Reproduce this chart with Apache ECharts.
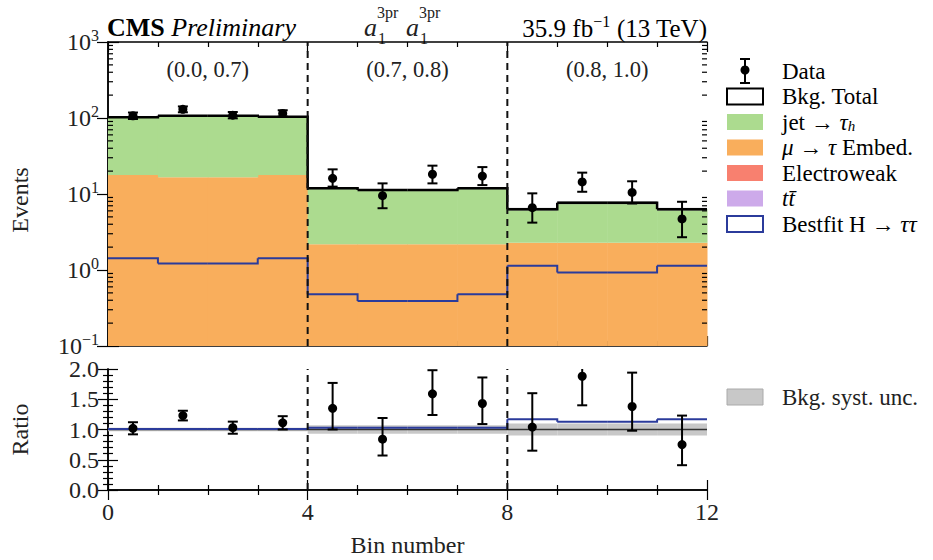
<!DOCTYPE html>
<html><head><meta charset="utf-8">
<script src="https://cdn.jsdelivr.net/npm/echarts@6/dist/echarts.min.js"></script>
<style>html,body{margin:0;padding:0;background:#fff}#c{width:933px;height:560px}</style>
</head><body><div id="c"></div>
<script>
// ---------------- data ----------------
const binEdges = [0,1,2,3,4,5,6,7,8,9,10,11,12];
const categoryLabels = ['(0.0, 0.7)','(0.7, 0.8)','(0.8, 1.0)'];
const categoryCenters = [2, 6, 10];
const categoryBoundaries = [4, 8];
const ttbar       = [0.03,0.03,0.03,0.03, 0.01,0.01,0.01,0.01, 0.01,0.01,0.01,0.01];
const electroweak = [0.06,0.06,0.06,0.06, 0.02,0.02,0.02,0.02, 0.02,0.02,0.02,0.02];
const muEmbed     = [17.7,16.5,16.5,17.7, 2.15,2.15,2.15,2.15, 2.25,2.25,2.25,2.25];
const jetTau      = [84.2,90.4,90.4,86.2, 9.7,9.1,9.1,9.7, 4.0,5.4,5.4,4.0];
const higgsBestfit= [1.43,1.22,1.22,1.43, 0.48,0.39,0.39,0.48, 1.14,0.93,0.93,1.14];
const bkgUncFrac  = [0.03,0.03,0.03,0.03, 0.07,0.07,0.07,0.07, 0.10,0.10,0.10,0.10];
const dataValues  = [107,130,109,115, 16.1,9.5,18.2,17.2, 6.6,14.4,10.5,4.7];
const dataErrLo   = [10,11,10,10.5, 3.6,3.0,4.4,4.1, 2.4,3.7,3.0,2.0];
const dataErrHi   = [11,12,11,11.5, 5.0,4.3,5.4,5.4, 3.6,4.7,4.2,3.2];
const ratioValues = [1.02,1.23,1.03,1.11, 1.35,0.84,1.59,1.43, 1.04,1.88,1.38,0.75];
const ratioErrLo  = [0.10,0.08,0.10,0.11, 0.35,0.27,0.35,0.34, 0.39,0.48,0.40,0.34];
const ratioErrHi  = [0.10,0.08,0.10,0.11, 0.42,0.35,0.39,0.43, 0.56,0.60,0.56,0.48];
const sigRatio    = [1.01,1.01,1.01,1.01, 1.03,1.03,1.03,1.03, 1.17,1.13,1.13,1.17];
const logTicks    = [0.1, 1, 10, 100, 1000];
const ratioTicks  = [0, 0.5, 1.0, 1.5, 2.0];
const xTickLabels = [0, 4, 8, 12];

// ---------------- style ----------------
const FONT = 'Liberation Serif';
const TXT = '#222';
const COLORS = {jet:'#acdb8f', emb:'#f9ae5c', ewk:'#f8806f', tt:'#cdaaea', higgs:'#2b3b9b', unc:'#c8c8c8'};
const YMIN = 0.1, YMAX = 1000;
const FS_TICK = 24, FS_LEG = 23, FS_NAME = 24, FS_HEAD = 26;

const layers = [ttbar, electroweak, muEmbed, jetTau];
const layerColors = [COLORS.tt, COLORS.ewk, COLORS.emb, COLORS.jet];
const cum = [binEdges.slice(0,-1).map(()=>0)];
layers.forEach((l,k)=>cum.push(l.map((v,i)=>cum[k][i]+v)));
const bkgTotal = cum[cum.length-1];

const nb = binEdges.length - 1;
const binData = Array.from({length:nb}, (_,i)=>[binEdges[i]+0.5, 1]);

function stackSeries(k){
  return {type:'custom', xAxisIndex:0, yAxisIndex:0, silent:true, z:1,
    data: binData,
    renderItem(params, api){
      const i = Math.floor(api.value(0));
      const lo = Math.max(cum[k][i], YMIN), hi = cum[k+1][i];
      if (hi <= lo) return {type:'group', children:[]};
      const p0 = api.coord([binEdges[i], hi]), p1 = api.coord([binEdges[i+1], lo]);
      return {type:'rect', shape:{x:p0[0], y:p0[1], width:p1[0]-p0[0]+0.5, height:p1[1]-p0[1]},
        style:{fill:layerColors[k]}};
    }};
}
function stepSeries(vals, color, lw, xi, yi, z){
  return {type:'custom', xAxisIndex:xi, yAxisIndex:yi, silent:true, z:z,
    data: binData,
    renderItem(params, api){
      const i = Math.floor(api.value(0));
      const pts = [api.coord([binEdges[i], vals[i]]), api.coord([binEdges[i+1], vals[i]])];
      if (i+1 < nb) pts.push(api.coord([binEdges[i+1], vals[i+1]]));
      return {type:'polyline', shape:{points:pts}, style:{stroke:color, lineWidth:lw, fill:null}};
    }};
}
function bandSeries(center, frac, color, xi, yi, z){
  return {type:'custom', xAxisIndex:xi, yAxisIndex:yi, silent:true, z:z,
    data: binData,
    renderItem(params, api){
      const i = Math.floor(api.value(0));
      const c = center(i);
      const p0 = api.coord([binEdges[i], c*(1+frac[i])]), p1 = api.coord([binEdges[i+1], c*(1-frac[i])]);
      return {type:'rect', shape:{x:p0[0], y:p0[1], width:p1[0]-p0[0], height:p1[1]-p0[1]},
        style:{fill:color}};
    }};
}
function pointSeries(vals, lo, hi, xi, yi, ymax){
  return {type:'custom', xAxisIndex:xi, yAxisIndex:yi, silent:true, z:10,
    data: binData,
    renderItem(params, api){
      const i = Math.floor(api.value(0));
      const x = binEdges[i]+0.5;
      const top = Math.min(vals[i]+hi[i], ymax);
      const c = api.coord([x, vals[i]]);
      const pt = api.coord([x, top]), pb = api.coord([x, vals[i]-lo[i]]);
      const ch = [
        {type:'line', shape:{x1:pt[0], y1:pt[1], x2:pb[0], y2:pb[1]}, style:{stroke:'#000', lineWidth:2}},
        {type:'line', shape:{x1:pb[0]-5, y1:pb[1], x2:pb[0]+5, y2:pb[1]}, style:{stroke:'#000', lineWidth:2}},
        {type:'circle', shape:{cx:c[0], cy:c[1], r:4.5}, style:{fill:'#000'}}
      ];
      if (vals[i]+hi[i] <= ymax) ch.push({type:'line', shape:{x1:pt[0]-5, y1:pt[1], x2:pt[0]+5, y2:pt[1]}, style:{stroke:'#000', lineWidth:2}});
      return {type:'group', children:ch};
    }};
}
function dashSeries(xi, yi, y0, y1){
  return {type:'custom', xAxisIndex:xi, yAxisIndex:yi, silent:true, z:12,
    data: categoryBoundaries.map(b=>[b, y0]),
    renderItem(params, api){
      const x = api.value(0);
      const a = api.coord([x, y0]), b = api.coord([x, y1]);
      return {type:'line', shape:{x1:a[0], y1:a[1], x2:b[0], y2:b[1]}, style:{stroke:'#111', lineWidth:2, lineDash:[7,5]}};
    }};
}
// minor log ticks at 2..9 x 10^k on both sides
const minorLogVals = [];
for (let e=-1; e<3; e++) for (let m=2; m<10; m++) minorLogVals.push(m*Math.pow(10,e));
const minorLogSeries = {type:'custom', xAxisIndex:0, yAxisIndex:0, silent:true, z:13,
  data: minorLogVals.map(v=>[0, v]),
  renderItem(params, api){
    const v = api.value(1);
    const a = api.coord([0, v]), b = api.coord([12, v]);
    return {type:'group', children:[
      {type:'line', shape:{x1:a[0], y1:a[1], x2:a[0]+5, y2:a[1]}, style:{stroke:'#000', lineWidth:1.2}},
      {type:'line', shape:{x1:b[0]-5, y1:b[1], x2:b[0], y2:b[1]}, style:{stroke:'#000', lineWidth:1.2}}
    ]};
  }};
const ratioRefLine = {type:'custom', xAxisIndex:2, yAxisIndex:2, silent:true, z:4,
  data:[[0,1]],
  renderItem(params, api){
    const a = api.coord([0,1]), b = api.coord([12,1]);
    return {type:'line', shape:{x1:a[0], y1:a[1], x2:b[0], y2:b[1]}, style:{stroke:'#333', lineWidth:1.5}};
  }};

const axisLineStyle = {lineStyle:{color:'#000', width:1.5}};
const tickStyle = {inside:true, length:10, lineStyle:{color:'#000', width:1.2}};
const minorTickStyle = {show:true, length:5, lineStyle:{color:'#000', width:1.2}};
function xAx(grid, pos, labels){
  return {type:'value', gridIndex:grid, position:pos, min:0, max:12, interval:4,
    axisLine:axisLineStyle, axisTick:tickStyle, minorTick:Object.assign({splitNumber:4}, minorTickStyle),
    splitLine:{show:false}, minorSplitLine:{show:false},
    axisLabel:labels ? {show:true, fontFamily:FONT, fontSize:FS_TICK, color:TXT, margin:10,
      formatter:v=>xTickLabels.includes(v)?String(v):''} : {show:false},
    name: labels ? 'Bin number' : '', nameLocation:'middle', nameGap:43,
    nameTextStyle:{fontFamily:FONT, fontSize:FS_NAME, color:TXT}};
}
function supNum(e){ return e<0 ? '\u2212'+(-e) : String(e); }
const yLog = (pos, labels)=>({type:'log', gridIndex:0, position:pos, min:YMIN, max:YMAX, logBase:10, splitNumber:4,
  axisLine:axisLineStyle, axisTick:Object.assign({}, tickStyle, {length:11}), splitLine:{show:false},
  axisLabel: labels ? {show:true, margin:9, formatter:v=>{
      if (!logTicks.some(t=>Math.abs(t-v)/t<1e-6)) return '';
      return '{b|10}{s|'+supNum(Math.round(Math.log10(v)))+'}';},
    rich:{b:{fontFamily:FONT, fontSize:FS_TICK, color:TXT}, s:{fontFamily:FONT, fontSize:16, color:TXT, padding:[0,0,13,0]}}} : {show:false},
  name: labels ? 'Events' : '', nameLocation:'middle', nameGap:76, nameRotate:90,
  nameTextStyle:{fontFamily:FONT, fontSize:FS_NAME, color:TXT, padding:[0,12,0,0]}});
const yRat = (pos, labels)=>({type:'value', gridIndex:1, position:pos, min:0, max:2, interval:0.5,
  axisLine:axisLineStyle, axisTick:tickStyle, minorTick:Object.assign({splitNumber:5}, minorTickStyle),
  splitLine:{show:false}, minorSplitLine:{show:false},
  axisLabel: labels ? {show:true, margin:9, fontFamily:FONT, fontSize:FS_TICK, color:TXT,
    formatter:v=>ratioTicks.some(t=>Math.abs(t-v)<1e-6)?v.toFixed(1):''} : {show:false},
  name: labels ? 'Ratio' : '', nameLocation:'middle', nameGap:76, nameRotate:90,
  nameTextStyle:{fontFamily:FONT, fontSize:FS_NAME, color:TXT}});

// legend (graphic)
const LX0 = 727, LW = 36, LH = 16, LTX = 782;
const legendRows = [
  {label:'Data', kind:'data'},
  {label:'Bkg. Total', kind:'box', fill:'#fff', stroke:'#000'},
  {label:'{n|jet \u2192 }{i|\u03c4}{sub|h}', kind:'box', fill:COLORS.jet},
  {label:'{i|\u03bc}{n| \u2192 }{i|\u03c4}{n| Embed.}', kind:'box', fill:COLORS.emb},
  {label:'Electroweak', kind:'box', fill:COLORS.ewk},
  {label:'{i|tt\u0304}', kind:'box', fill:COLORS.tt},
  {label:'{n|Bestfit H \u2192 }{i|\u03c4\u03c4}', kind:'box', fill:'#fff', stroke:COLORS.higgs}
];
const legendRowY0 = 71, legendRowStep = 25.5;
const richLegend = {n:{fontFamily:FONT, fontSize:FS_LEG, color:TXT}, i:{fontFamily:FONT, fontSize:FS_LEG, fontStyle:'italic', color:TXT},
  sub:{fontFamily:FONT, fontSize:15, fontStyle:'italic', color:TXT, padding:[7,0,0,0]}};
const graphics = [];
legendRows.forEach((r, k)=>{
  const y = legendRowY0 + k*legendRowStep;
  if (r.kind === 'data') {
    const cx = LX0 + LW/2;
    graphics.push({type:'line', shape:{x1:cx, y1:y-12, x2:cx, y2:y+12}, style:{stroke:'#000', lineWidth:2}});
    graphics.push({type:'line', shape:{x1:cx-5, y1:y-12, x2:cx+5, y2:y-12}, style:{stroke:'#000', lineWidth:2}});
    graphics.push({type:'line', shape:{x1:cx-5, y1:y+12, x2:cx+5, y2:y+12}, style:{stroke:'#000', lineWidth:2}});
    graphics.push({type:'circle', shape:{cx:cx, cy:y-1, r:4.5}, style:{fill:'#000'}});
  } else {
    graphics.push({type:'rect', shape:{x:LX0, y:y-LH/2, width:LW, height:LH},
      style:{fill:r.fill, stroke:r.stroke||null, lineWidth:r.stroke?2:0}});
  }
  graphics.push({type:'text', x:LTX, y:y, style:{text:r.label.startsWith('{')?r.label:'{n|'+r.label+'}', rich:richLegend,
    verticalAlign:'middle', align:'left'}});
});
// ratio panel legend
graphics.push({type:'rect', shape:{x:LX0, y:389, width:LW, height:16}, style:{fill:COLORS.unc, stroke:'#aaa', lineWidth:1}});
graphics.push({type:'text', x:LTX, y:397, style:{text:'Bkg. syst. unc.', fontFamily:FONT, fontSize:FS_LEG, fill:TXT, verticalAlign:'middle'}});
// header texts
graphics.push({type:'text', x:107, y:27, style:{text:'{b|CMS }{i|Preliminary}', verticalAlign:'middle',
  rich:{b:{fontFamily:FONT, fontSize:FS_HEAD, fontWeight:'bold', color:'#111'}, i:{fontFamily:FONT, fontSize:FS_HEAD, fontStyle:'italic', color:TXT}}}});
graphics.push({type:'text', x:707, y:28, style:{text:'{n|35.9 fb}{s|\u22121}{n| (13 TeV)}', align:'right', verticalAlign:'middle',
  rich:{n:{fontFamily:FONT, fontSize:FS_HEAD-1, color:TXT}, s:{fontFamily:FONT, fontSize:16, color:TXT, padding:[0,0,13,0]}}}});
[[364, 'a'], [406, 'a']].forEach(([x, t])=>{
  graphics.push({type:'text', x:x, y:27, style:{text:t, fontFamily:FONT, fontSize:26, fontStyle:'italic', fill:TXT, verticalAlign:'middle'}});
  graphics.push({type:'text', x:x+13, y:12, style:{text:'3pr', fontFamily:FONT, fontSize:16, fill:TXT, verticalAlign:'middle'}});
  graphics.push({type:'text', x:x+14, y:38, style:{text:'1', fontFamily:FONT, fontSize:16, fill:TXT, verticalAlign:'middle'}});
});

const option = {
  backgroundColor:'#fff',
  animation:false,
  grid:[{left:107, top:42, width:600, height:304}, {left:107, top:369, width:600, height:121}],
  xAxis:[xAx(0,'bottom',false), xAx(0,'top',false), xAx(1,'bottom',true), xAx(1,'top',false)],
  yAxis:[yLog('left',true), yLog('right',false), yRat('left',true), yRat('right',false)],
  graphic:graphics,
  series:[
    stackSeries(0), stackSeries(1), stackSeries(2), stackSeries(3),
    bandSeries(i=>bkgTotal[i], bkgUncFrac.map(f=>f*0.5), 'rgba(150,150,150,0.55)', 0, 0, 3),
    stepSeries(bkgTotal, '#000', 2.5, 0, 0, 4),
    stepSeries(higgsBestfit, COLORS.higgs, 2, 0, 0, 5),
    pointSeries(dataValues, dataErrLo, dataErrHi, 0, 0, YMAX),
    dashSeries(0, 0, YMIN, YMAX),
    minorLogSeries,
    {type:'custom', xAxisIndex:0, yAxisIndex:0, silent:true, z:14,
      data: categoryCenters.map(c=>[c, 1]),
      renderItem(params, api){
        const k = params.dataIndex;
        const p = api.coord([api.value(0), YMAX]);
        return {type:'text', x:p[0], y:p[1]+27, style:{text:categoryLabels[k], fontFamily:FONT, fontSize:22.5, fill:TXT,
          align:'center', verticalAlign:'middle'}};
      }},
    bandSeries(()=>1, bkgUncFrac, COLORS.unc, 2, 2, 2),
    ratioRefLine,
    stepSeries(sigRatio, COLORS.higgs, 2, 2, 2, 5),
    pointSeries(ratioValues, ratioErrLo, ratioErrHi, 2, 2, 2.0),
    dashSeries(2, 2, 0, 2)
  ]
};
const chart = echarts.init(document.getElementById('c'), null, {renderer:'svg'});
chart.setOption(option);
</script>
</body></html>
